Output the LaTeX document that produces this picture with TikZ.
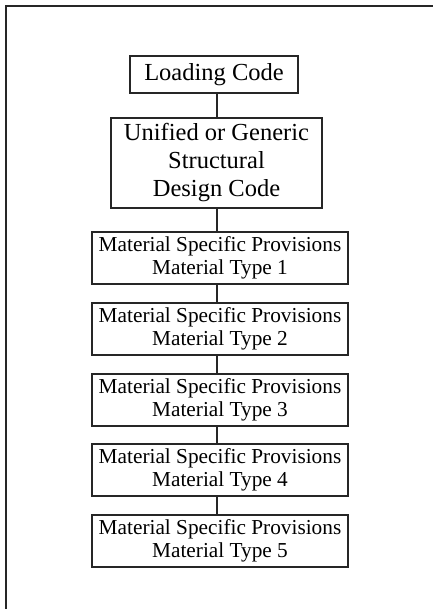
\documentclass[tikz,border=0pt]{standalone}
\usepackage{fontspec}
\setmainfont{Liberation Serif}
\begin{document}
\begin{tikzpicture}[x=1pt,y=-1pt,
  boxline/.style={draw=black!85,line width=1.3pt},
  bigbox/.style={boxline,inner sep=0pt,align=center,font=\fontsize{24.5}{28}\selectfont},
  matbox/.style={boxline,inner sep=0pt,align=center,minimum width=256pt,minimum height=52pt,font=\fontsize{21.3}{23.5}\selectfont},
  link/.style={draw=black!85,line width=1.3pt}]
\useasboundingbox (0,0) rectangle (433,609);
\draw[boxline] (6,609) -- (6,6) -- (433,6);
\coordinate (spine) at (217,0);
\node[bigbox,minimum width=168pt,minimum height=37pt] (load) at (214,74.5) {Loading Code};
\node[bigbox,minimum width=211pt,minimum height=90pt] (uni) at (216.5,163) {Unified or Generic\\Structural\\Design Code};
\node[matbox] (m1) at (220,258) {Material Specific Provisions\\Material Type 1};
\node[matbox] (m2) at (220,329) {Material Specific Provisions\\Material Type 2};
\node[matbox] (m3) at (220,400) {Material Specific Provisions\\Material Type 3};
\node[matbox] (m4) at (220,470) {Material Specific Provisions\\Material Type 4};
\node[matbox] (m5) at (220,541) {Material Specific Provisions\\Material Type 5};
\draw[link] (load.south -| spine) -- (uni.north -| spine);
\draw[link] (uni.south -| spine) -- (m1.north -| spine);
\draw[link] (m1.south -| spine) -- (m2.north -| spine);
\draw[link] (m2.south -| spine) -- (m3.north -| spine);
\draw[link] (m3.south -| spine) -- (m4.north -| spine);
\draw[link] (m4.south -| spine) -- (m5.north -| spine);
\end{tikzpicture}
\end{document}
